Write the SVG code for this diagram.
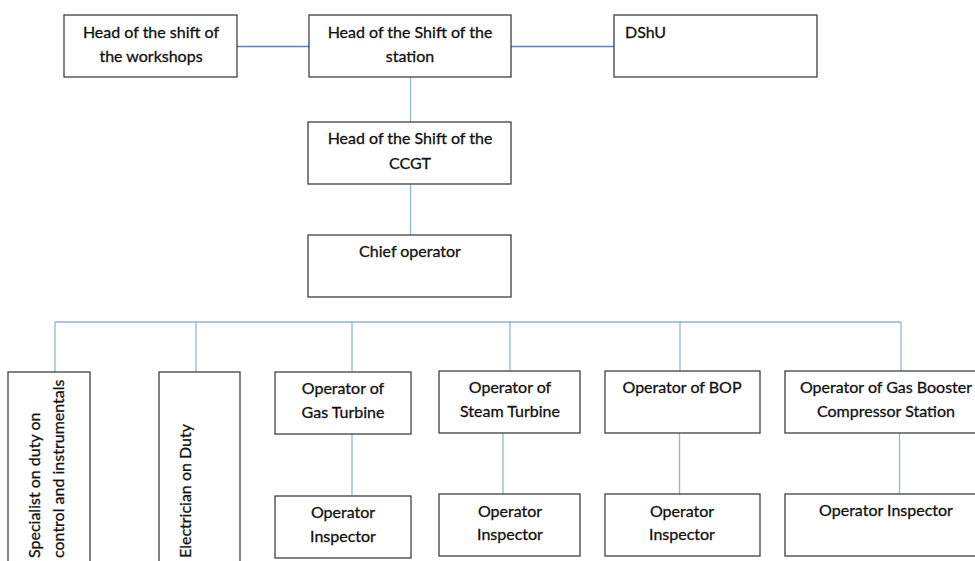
<svg xmlns="http://www.w3.org/2000/svg" width="975" height="561" viewBox="0 0 975 561">
  <style>
    .box { fill: #ffffff; stroke: #404040; stroke-width: 1.3; }
    .lbl { font-family: Lato, "Liberation Sans", sans-serif; font-size: 16px; fill: #111111; stroke: #111111; stroke-width: 0.3; }
    .mid { text-anchor: middle; }
    .link { fill: none; stroke: #95B3D7; stroke-width: 1.3; }
    .link-top { fill: none; stroke: #5B80B8; stroke-width: 1.3; }
  </style>

  <rect width="975" height="561" fill="#ffffff"/>

  <!-- connectors -->
  <g id="connectors">
    <line class="link-top" x1="237" y1="46.5" x2="309" y2="46.5"/>
    <line class="link-top" x1="511" y1="46.5" x2="614" y2="46.5"/>
    <line class="link" x1="410.5" y1="77" x2="410.5" y2="122"/>
    <line class="link" x1="410.5" y1="184" x2="410.5" y2="235"/>
    <!-- bus feeding the operators -->
    <line class="link" x1="55" y1="322" x2="901" y2="322"/>
    <line class="link" x1="55" y1="322" x2="55" y2="372"/>
    <line class="link" x1="196" y1="322" x2="196" y2="372"/>
    <line class="link" x1="352" y1="322" x2="352" y2="372"/>
    <line class="link" x1="510" y1="322" x2="510" y2="371"/>
    <line class="link" x1="680" y1="322" x2="680" y2="371"/>
    <line class="link" x1="901" y1="322" x2="901" y2="371"/>
    <!-- operator to inspector -->
    <line class="link" x1="352" y1="434" x2="352" y2="496"/>
    <line class="link" x1="503" y1="433" x2="503" y2="494"/>
    <line class="link" x1="679.5" y1="433" x2="679.5" y2="494"/>
    <line class="link" x1="899.5" y1="433" x2="899.5" y2="494"/>
  </g>

  <g id="workshops">
    <rect class="box" x="64" y="15" width="173" height="62"/>
    <text class="lbl mid" x="151" y="38">Head of the shift of</text>
    <text class="lbl mid" x="151" y="62">the workshops</text>
  </g>

  <g id="station">
    <rect class="box" x="309" y="15" width="202" height="62"/>
    <text class="lbl mid" x="410" y="38">Head of the Shift of the</text>
    <text class="lbl mid" x="410" y="62">station</text>
  </g>

  <g id="dshu">
    <rect class="box" x="614" y="15" width="203" height="62"/>
    <text class="lbl" x="625" y="38">DShU</text>
  </g>

  <g id="ccgt">
    <rect class="box" x="308" y="122" width="203" height="62"/>
    <text class="lbl mid" x="410" y="144">Head of the Shift of the</text>
    <text class="lbl mid" x="410" y="169">CCGT</text>
  </g>

  <g id="chief">
    <rect class="box" x="308" y="235" width="203" height="62"/>
    <text class="lbl mid" x="410" y="257">Chief operator</text>
  </g>

  <g id="specialist">
    <rect class="box" x="8" y="372" width="82" height="200"/>
    <text class="lbl" transform="translate(39.5,558) rotate(-90)">Specialist on duty on</text>
    <text class="lbl" transform="translate(64,558) rotate(-90)">control and instrumentals</text>
  </g>

  <g id="electrician">
    <rect class="box" x="159" y="372" width="81" height="200"/>
    <text class="lbl" transform="translate(191,558) rotate(-90)">Electrician on Duty</text>
  </g>

  <g id="op-gas-turbine">
    <rect class="box" x="275" y="372" width="136" height="62"/>
    <text class="lbl mid" x="343" y="394">Operator of</text>
    <text class="lbl mid" x="343" y="418">Gas Turbine</text>
  </g>

  <g id="insp-gas-turbine">
    <rect class="box" x="275" y="496" width="136" height="62"/>
    <text class="lbl mid" x="343" y="518">Operator</text>
    <text class="lbl mid" x="343" y="542">Inspector</text>
  </g>

  <g id="op-steam-turbine">
    <rect class="box" x="439" y="371" width="141" height="62"/>
    <text class="lbl mid" x="510" y="393">Operator of</text>
    <text class="lbl mid" x="510" y="417">Steam Turbine</text>
  </g>

  <g id="insp-steam-turbine">
    <rect class="box" x="439" y="494" width="141" height="62"/>
    <text class="lbl mid" x="510" y="517">Operator</text>
    <text class="lbl mid" x="510" y="540">Inspector</text>
  </g>

  <g id="op-bop">
    <rect class="box" x="605" y="371" width="155" height="62"/>
    <text class="lbl mid" x="682" y="393">Operator of BOP</text>
  </g>

  <g id="insp-bop">
    <rect class="box" x="605" y="494" width="155" height="62"/>
    <text class="lbl mid" x="682" y="517">Operator</text>
    <text class="lbl mid" x="682" y="540">Inspector</text>
  </g>

  <g id="op-gas-booster">
    <rect class="box" x="785" y="371" width="202" height="62"/>
    <text class="lbl mid" x="886" y="393">Operator of Gas Booster</text>
    <text class="lbl mid" x="886" y="417">Compressor Station</text>
  </g>

  <g id="insp-gas-booster">
    <rect class="box" x="785" y="494" width="202" height="62"/>
    <text class="lbl mid" x="886" y="516">Operator Inspector</text>
  </g>
</svg>
